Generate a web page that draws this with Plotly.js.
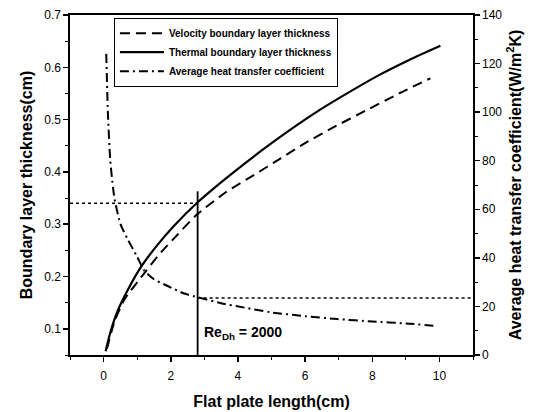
<!DOCTYPE html>
<html>
<head>
<meta charset="utf-8">
<script src="https://cdn.plot.ly/plotly-3.0.1.min.js"></script>
<style>html,body{margin:0;padding:0;background:#fff;}</style>
</head>
<body>
<div id="chart" style="width:537px;height:412px;"></div>
<script>
// Velocity boundary layer thickness (cm) vs flat plate length (cm)
const xVelocity = [0.1, 0.33, 0.63, 1.22, 1.72, 2.2, 2.77, 3.66, 4.5, 5.25, 6.0, 6.84, 7.8, 8.8, 9.73];
const velocity  = [0.062, 0.115, 0.157, 0.207, 0.247, 0.28, 0.318, 0.362, 0.395, 0.425, 0.455, 0.485, 0.517, 0.55, 0.579];

// Thermal boundary layer thickness (cm)
const xThermal = [0.06, 0.2, 0.43, 0.7, 1.12, 1.6, 2.1, 2.77, 3.46, 4.0, 4.75, 5.5, 6.45, 7.3, 8.2, 9.1, 10.03];
const thermal  = [0.057, 0.093, 0.136, 0.172, 0.219, 0.26, 0.297, 0.34, 0.378, 0.406, 0.443, 0.478, 0.519, 0.552, 0.585, 0.614, 0.641];

// Average heat transfer coefficient (W/m^2K), right axis
const xHeat = [0.08, 0.13, 0.2, 0.28, 0.33, 0.5, 0.72, 1.0, 1.22, 1.5, 1.91, 2.4, 2.81, 3.5, 4.2, 4.96, 6.0, 6.96, 8.0, 9.0, 9.88];
const heat  = [124, 99, 80, 69, 64, 54, 47.6, 40.4, 34.6, 31.2, 28.4, 25.3, 23.8, 21.3, 19.5, 17.6, 16.0, 14.8, 13.8, 13.0, 12.0];

// Reference lines at Re_Dh = 2000
const reX = [2.8, 2.8];
const reY = [0.05, 0.363];
const leftDotX = [-1, 2.8];
const leftDotY = [0.34, 0.34];
const rightDotX = [2.8, 11];
const rightDotY = [23.5, 23.5];

const names = ['Velocity boundary layer thickness', 'Thermal boundary layer thickness', 'Average heat transfer coefficient'];
const reLabel = 'Re<sub>Dh</sub> = 2000';

const FONT = 'Liberation Sans, Arial, sans-serif';

const traces = [
  {x: xVelocity, y: velocity, name: names[0], mode: 'lines', line: {color: '#000', width: 2, dash: '10px,6px', shape: 'spline', smoothing: 0.6}, yaxis: 'y'},
  {x: xThermal, y: thermal, name: names[1], mode: 'lines', line: {color: '#000', width: 2.2, shape: 'spline', smoothing: 0.6}, yaxis: 'y'},
  {x: xHeat, y: heat, name: names[2], mode: 'lines', line: {color: '#000', width: 2, dash: '9px,4px,2px,4px', shape: 'spline', smoothing: 0.6}, yaxis: 'y2'},
  {x: reX, y: reY, mode: 'lines', line: {color: '#000', width: 1.8}, showlegend: false, hoverinfo: 'skip', yaxis: 'y'},
  {x: leftDotX, y: leftDotY, mode: 'lines', line: {color: '#000', width: 1.5, dash: '3px,3px'}, showlegend: false, hoverinfo: 'skip', yaxis: 'y'},
  {x: rightDotX, y: rightDotY, mode: 'lines', line: {color: '#000', width: 1.5, dash: '3px,3px'}, showlegend: false, hoverinfo: 'skip', yaxis: 'y2'}
];

const axisCommon = {
  showgrid: false, zeroline: false, showline: true, linecolor: '#000', linewidth: 1.6,
  ticks: 'outside', ticklen: 5, tickwidth: 1.5, tickcolor: '#000',
  tickfont: {family: FONT, size: 12, color: '#000'}
};

const layout = {
  width: 537, height: 412,
  margin: {l: 70, r: 64, t: 15, b: 57},
  paper_bgcolor: '#fff', plot_bgcolor: '#fff',
  font: {family: FONT, color: '#000'},
  showlegend: true,
  legend: {
    x: 0.109, y: 0.992, xanchor: 'left', yanchor: 'top',
    bgcolor: '#fff', bordercolor: '#000', borderwidth: 1,
    font: {family: FONT, size: 10, weight: 'bold', color: '#000'},
    tracegroupgap: 0, itemwidth: 44
  },
  xaxis: Object.assign({}, axisCommon, {
    range: [-1, 11], tick0: 0, dtick: 2, mirror: true, ticklabelstandoff: 4,
    minor: {dtick: 1, ticklen: 3, ticks: 'outside', tickwidth: 1, tickcolor: '#000'},
    title: {text: 'Flat plate length(cm)', font: {family: FONT, size: 16, weight: 'bold', color: '#000'}, standoff: 14}
  }),
  yaxis: Object.assign({}, axisCommon, {
    range: [0.05, 0.7], tick0: 0.1, dtick: 0.1, tickformat: '.1f',
    minor: {dtick: 0.05, ticklen: 3, ticks: 'outside', tickwidth: 1, tickcolor: '#000'},
    title: {text: 'Boundary layer thickness(cm)', font: {family: FONT, size: 16, weight: 'bold', color: '#000'}, standoff: 8}
  }),
  yaxis2: Object.assign({}, axisCommon, {
    overlaying: 'y', side: 'right',
    range: [0, 140], tick0: 0, dtick: 20,
    minor: {dtick: 10, ticklen: 3, ticks: 'outside', tickwidth: 1, tickcolor: '#000'},
    title: {text: 'Average heat transfer coefficient(W/m<sup>2</sup>K)', font: {family: FONT, size: 16, weight: 'bold', color: '#000'}, standoff: 8}
  }),
  annotations: [{
    x: 2.93, y: 0.092, xref: 'x', yref: 'y', xanchor: 'left', yanchor: 'middle',
    text: reLabel, showarrow: false,
    font: {family: FONT, size: 14, weight: 'bold', color: '#000'}
  }]
};

Plotly.newPlot('chart', traces, layout, {displayModeBar: false, staticPlot: true});
</script>
</body>
</html>
